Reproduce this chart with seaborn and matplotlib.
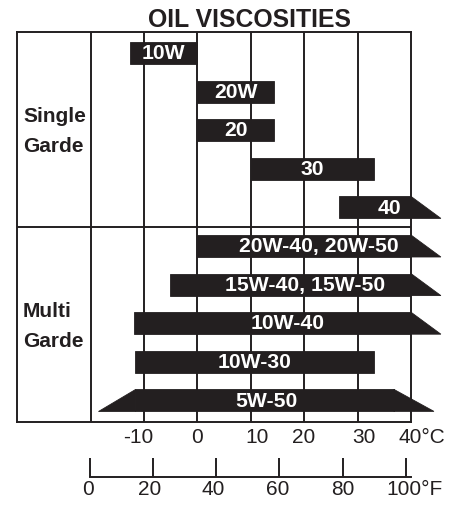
import numpy as np
import pandas as pd
import matplotlib
matplotlib.use("Agg")
import matplotlib.pyplot as plt
import matplotlib.transforms as mtransforms
import seaborn as sns

# ---------------- data ----------------
grades = ["10W", "20W", "20", "30", "40",
          "20W-40, 20W-50", "15W-40, 15W-50", "10W-40", "10W-30", "5W-50"]
start_c = [-12.6, 0, 0, 10, 26.5, 0, -5.1, -11.9, -11.7, -11.7]          # top-left edge
end_c = [0, 14.3, 14.3, 33.1, 40, 40, 40, 40, 33.1, 36.8]                 # top-right edge
start_bottom_c = [-12.6, 0, 0, 10, 26.5, 0, -5.1, -11.9, -11.7, -18.6]   # bottom-left edge
end_bottom_c = [0, 14.3, 14.3, 33.1, 45.6, 45.6, 45.6, 45.6, 33.1, 44.3]  # bottom-right edge
group_single = ["Single", "Garde"]
group_multi = ["Multi", "Garde"]
celsius_ticks = [-10, 0, 10, 20, 30, 40]
celsius_labels = ["-10", "0", "10", "20", "30", "40°C"]
fahrenheit_ticks = [0, 20, 40, 60, 80, 100]
fahrenheit_labels = ["0", "20", "40", "60", "80", "100°F"]
grid_c = [-20, -10, 0, 10, 20, 30]
title = "OIL VISCOSITIES"

# ---------------- style ----------------
sns.set_style("white")
plt.rcParams["font.family"] = ["Liberation Sans", "DejaVu Sans"]
INK = "#231f20"
LW = 1.4

W, H = 460, 507
fig = plt.figure(figsize=(W / 100, H / 100), dpi=100)

def fx(px):
    return px / W

def fy(py):
    return 1 - py / H

ax = fig.add_axes([fx(17), fy(422), fx(411) - fx(17), fy(32) - fy(422)])

df = pd.DataFrame({
    "grade": grades,
    "width": np.array(end_c) - np.array(start_c),
})
bar_h = 0.57
sns.barplot(data=df, x="width", y="grade", orient="y", ax=ax,
            color=INK, saturation=1, width=bar_h,
            left=np.array(start_c), linewidth=0.6, edgecolor=INK, zorder=3)

# tapered ends
for i in range(len(grades)):
    top, bot = i - bar_h / 2, i + bar_h / 2
    if end_bottom_c[i] > end_c[i]:
        ax.fill([end_c[i], end_bottom_c[i], end_c[i]], [top, bot, bot],
                color=INK, lw=0.6, ec=INK, zorder=3, clip_on=False)
    if start_bottom_c[i] < start_c[i]:
        ax.fill([start_c[i], start_c[i], start_bottom_c[i]], [top, bot, bot],
                color=INK, lw=0.6, ec=INK, zorder=3, clip_on=False)
    xl = min(start_c[i], start_bottom_c[i])
    xr = max(end_c[i], end_bottom_c[i])
    ax.text((xl + xr) / 2, i + 0.02, grades[i], color="white", fontsize=15.2,
            fontweight="bold", ha="center", va="center", zorder=4, clip_on=False)

ax.set_xlim(-33.8, 40)
ax.set_ylim(9.56, -0.544)
for g in grid_c:
    ax.axvline(g, color=INK, lw=LW, zorder=1)
ax.axhline(4.51, color=INK, lw=LW, zorder=1)

for s in ax.spines.values():
    s.set_visible(True)
    s.set_color(INK)
    s.set_linewidth(LW)

ax.set_ylabel("")
ax.set_xlabel("")
ax.set_yticks([])
ax.set_xticks(celsius_ticks)
ax.set_xticklabels(celsius_labels, fontsize=15)
ax.tick_params(axis="x", length=0, pad=4, colors=INK)
c_offsets = [-6, 0, 6, -1, 6, -12.5]
for lab, off in zip(ax.get_xticklabels(), c_offsets):
    lab.set_transform(lab.get_transform() +
                      mtransforms.ScaledTranslation(off / 100, 0, fig.dpi_scale_trans))
ax.get_xticklabels()[-1].set_ha("left")

# Fahrenheit scale
ax2 = fig.add_axes([fx(90), fy(477), fx(411) - fx(90), 0.0001])
ax2.set_xlim(0, 101.7)
ax2.set_yticks([])
for k, s in ax2.spines.items():
    s.set_visible(k == "bottom")
ax2.spines["bottom"].set_color(INK)
ax2.spines["bottom"].set_linewidth(LW)
ax2.set_xticks(fahrenheit_ticks)
ax2.set_xticklabels(fahrenheit_labels, fontsize=15)
ax2.tick_params(axis="x", bottom=True, direction="in", length=13.7, width=LW,
                pad=2.2, color=INK, labelcolor=INK)
f_offsets = [-2, -4, -3, -2, 0, -19.5]
for lab, off in zip(ax2.get_xticklabels(), f_offsets):
    lab.set_transform(lab.get_transform() +
                      mtransforms.ScaledTranslation(off / 100, 0, fig.dpi_scale_trans))
ax2.get_xticklabels()[-1].set_ha("left")
ax2.patch.set_alpha(0)

# texts
fig.text(fx(250), fy(27), title, fontsize=17.8, fontweight="bold",
         ha="center", va="baseline", color=INK)
for txt, py in zip(group_single, [122, 152]):
    fig.text(fx(23), fy(py), txt, fontsize=15, fontweight="bold",
             ha="left", va="baseline", color=INK)
for txt, py in zip(group_multi, [317, 347]):
    fig.text(fx(23), fy(py), txt, fontsize=15, fontweight="bold",
             ha="left", va="baseline", color=INK)

fig.savefig("out.png", dpi=100, facecolor="white")
